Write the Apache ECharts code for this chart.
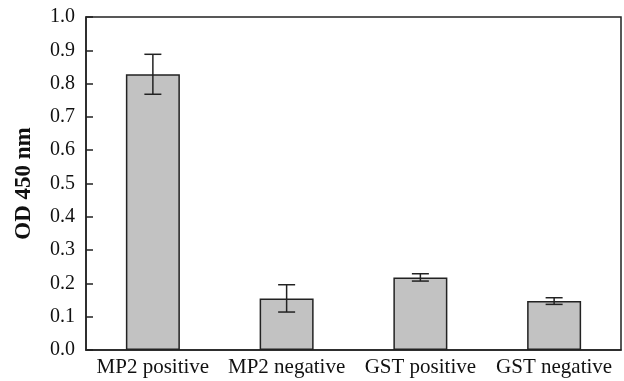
<!DOCTYPE html>
<html>
<head>
<meta charset="utf-8">
<script src="https://cdn.jsdelivr.net/npm/echarts@6/dist/echarts.min.js"></script>
<style>html,body{margin:0;padding:0;background:#fff}#c{width:624px;height:381px}</style>
</head>
<body>
<div id="c"></div>
<script>
var categories = ['MP2 positive', 'MP2 negative', 'GST positive', 'GST negative'];
var meanValues = [0.828, 0.155, 0.218, 0.147];
var errorValues = [0.060, 0.041, 0.011, 0.010];
var yTicks = [0, 0.1, 0.2, 0.3, 0.4, 0.5, 0.6, 0.7, 0.8, 0.9, 1.0];

var errData = meanValues.map(function (v, i) { return [i, v - errorValues[i], v + errorValues[i]]; });
var chart = echarts.init(document.getElementById('c'));
var serif = '"Liberation Serif", "Times New Roman", serif';
chart.setOption({
  animation: false,
  grid: { left: 86, right: 3, top: 17, bottom: 31, show: true, borderColor: '#222', borderWidth: 1.5, backgroundColor: 'transparent' },
  xAxis: {
    type: 'category', data: categories, boundaryGap: true,
    axisLine: { lineStyle: { color: '#222', width: 1.5 } },
    axisTick: { inside: true, length: 7, lineStyle: { color: '#222', width: 1.5 } },
    axisLabel: { interval: 0, fontFamily: serif, fontSize: 21, color: '#111', margin: 7 }
  },
  yAxis: {
    type: 'value', min: yTicks[0], max: yTicks[yTicks.length - 1], interval: 0.1,
    splitLine: { show: false },
    axisLine: { show: true, lineStyle: { color: '#222', width: 1.5 } },
    axisTick: { show: true, inside: true, length: 7, lineStyle: { color: '#222', width: 1.5 } },
    axisLabel: { fontFamily: serif, fontSize: 20, color: '#111', margin: 11, padding: [2, 0, 0, 0], formatter: function (v) { return v.toFixed(1); } },
    name: 'OD 450 nm', nameLocation: 'middle', nameGap: 50,
    nameTextStyle: { fontFamily: serif, fontSize: 23, fontWeight: 'bold', color: '#111' }
  },
  series: [
    {
      type: 'bar', data: meanValues, barWidth: 54,
      itemStyle: { color: '#c2c2c2', borderColor: '#222', borderWidth: 1.5 }
    },
    {
      type: 'custom', data: errData,
      renderItem: function (params, api) {
        var x = api.value(0);
        var lo = api.coord([x, api.value(1)]);
        var hi = api.coord([x, api.value(2)]);
        var hw = 8.5;
        var st = { stroke: '#222', lineWidth: 1.5 };
        return {
          type: 'group',
          children: [
            { type: 'line', shape: { x1: hi[0], y1: hi[1], x2: lo[0], y2: lo[1] }, style: st },
            { type: 'line', shape: { x1: hi[0] - hw, y1: hi[1], x2: hi[0] + hw, y2: hi[1] }, style: st },
            { type: 'line', shape: { x1: lo[0] - hw, y1: lo[1], x2: lo[0] + hw, y2: lo[1] }, style: st }
          ]
        };
      },
      z: 10
    }
  ]
});
</script>
</body>
</html>
